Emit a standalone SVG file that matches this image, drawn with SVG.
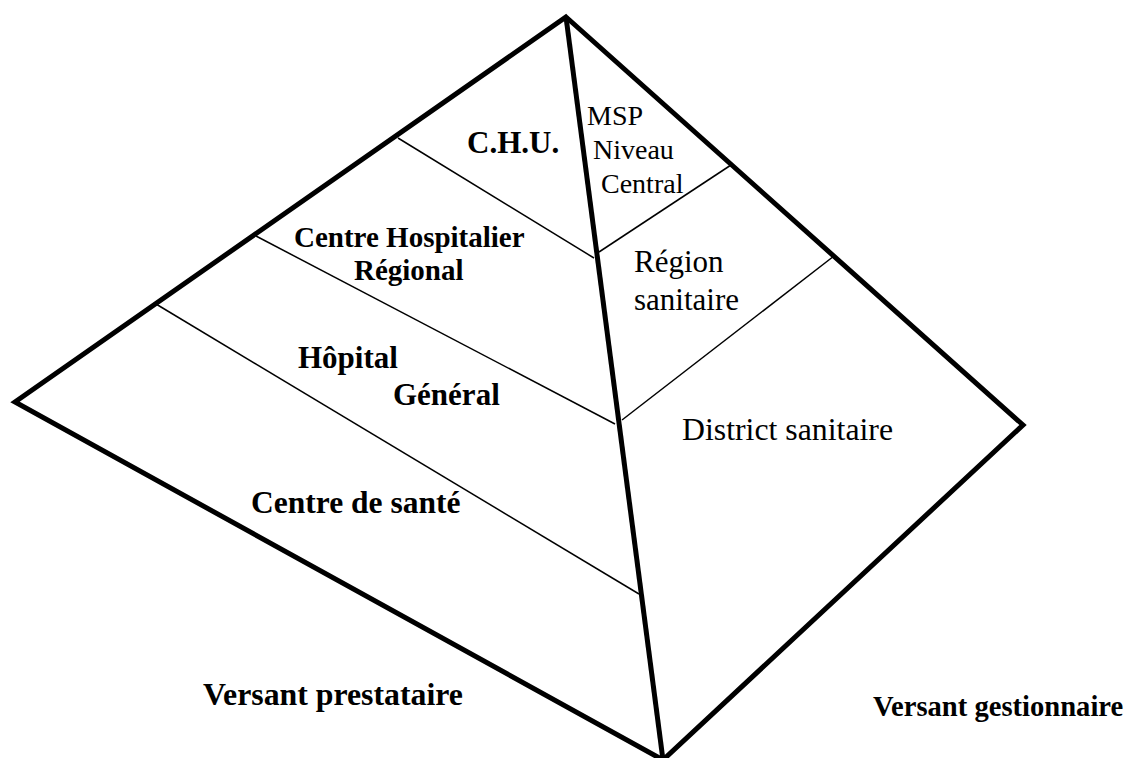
<svg xmlns="http://www.w3.org/2000/svg" width="1128" height="758" viewBox="0 0 1128 758">
<style>
.thick{fill:none;stroke:#000;stroke-width:5;stroke-linejoin:miter;stroke-miterlimit:10}
.thin{fill:none;stroke:#000;stroke-width:1.5}
text{font-family:"Liberation Serif","Times New Roman",serif;fill:#000}
.b{font-weight:bold}
</style>
<rect width="1128" height="758" fill="#fff"/>
<g id="connectors">
<polygon class="thick" points="566,17 1023,425 663,760 15,402"/>
<line class="thick" x1="566" y1="17" x2="663" y2="760"/>
<line class="thin" x1="398" y1="138" x2="594" y2="258"/>
<line class="thin" x1="599" y1="252" x2="731" y2="165"/>
<line class="thin" x1="256" y1="236" x2="615" y2="424"/>
<line class="thin" x1="622" y1="420" x2="834" y2="256"/>
<line class="thin" x1="156" y1="304" x2="639" y2="594"/>
</g>
<g id="chu"><text class="b" x="467" y="153" font-size="31">C.H.U.</text></g>
<g id="msp">
<text x="587" y="125" font-size="28">MSP</text>
<text x="593" y="159" font-size="28">Niveau</text>
<text x="601" y="193" font-size="28">Central</text>
</g>
<g id="chr">
<text class="b" x="294" y="247" font-size="29">Centre Hospitalier</text>
<text class="b" x="354" y="280" font-size="29">Régional</text>
</g>
<g id="region">
<text x="634" y="272" font-size="31">Région</text>
<text x="634" y="310" font-size="31">sanitaire</text>
</g>
<g id="hopital">
<text class="b" x="298" y="368" font-size="31">Hôpital</text>
<text class="b" x="393" y="405" font-size="31">Général</text>
</g>
<g id="district"><text x="682" y="440" font-size="31.8">District sanitaire</text></g>
<g id="centre-sante"><text class="b" x="251" y="513" font-size="31.5">Centre de santé</text></g>
<g id="versant-prestataire"><text class="b" x="203" y="705" font-size="31.8">Versant prestataire</text></g>
<g id="versant-gestionnaire"><text class="b" x="873" y="716" font-size="28.6">Versant gestionnaire</text></g>
</svg>
